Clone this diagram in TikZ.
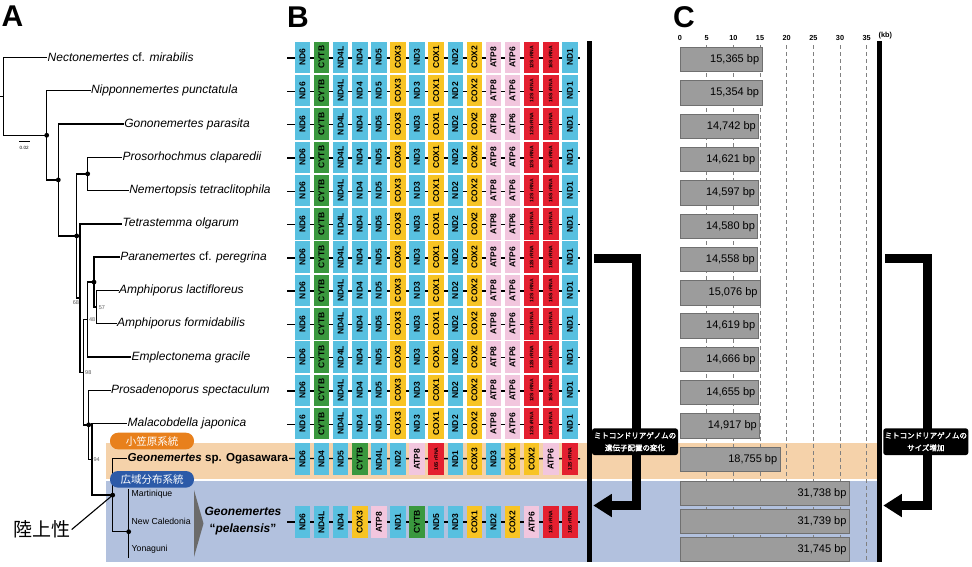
\documentclass[tikz,border=0pt]{standalone}
\usepackage{fontspec}
\setmainfont{Liberation Sans}
\newfontfamily\cjk[AutoFakeBold=2]{Noto Sans CJK JP}
\usetikzlibrary{arrows.meta}
\definecolor{ndc}{RGB}{88,192,224}
\definecolor{cyc}{RGB}{58,152,62}
\definecolor{cxc}{RGB}{248,196,36}
\definecolor{atc}{RGB}{242,198,222}
\definecolor{rrc}{RGB}{228,32,48}
\definecolor{bandor}{RGB}{245,210,170}
\definecolor{bandbl}{RGB}{178,193,222}
\definecolor{pillor}{RGB}{232,128,28}
\definecolor{pillbl}{RGB}{44,90,168}
\definecolor{barfill}{RGB}{156,156,156}
\definecolor{barline}{RGB}{112,112,112}
\begin{document}
\begin{tikzpicture}[x=1pt,y=-1pt,
  tree/.style={line width=1.4pt,line cap=rect},
  leaf/.style={anchor=west,inner sep=0.8pt,font=\fontsize{12}{12}\selectfont},
  sup/.style={inner sep=0pt,font=\fontsize{5.5}{5.5}\selectfont,text=black!65},
  gene/.style={rotate=90,minimum width=31.5pt,minimum height=15.5pt,inner sep=0pt,
    font=\bfseries\fontsize{8.5}{8.5}\selectfont},
  gnd/.style={fill=ndc},
  gcy/.style={fill=cyc},
  gcx/.style={fill=cxc},
  gat/.style={fill=atc},
  grr/.style={fill=rrc,font=\bfseries\fontsize{5}{5}\selectfont},
  rowline/.style={line width=1.4pt},
  bar/.style={fill=barfill,draw=barline,line width=0.6pt},
  bartext/.style={anchor=east,inner sep=0pt,font=\fontsize{11}{11}\selectfont},
  tick/.style={inner sep=0pt,font=\bfseries\fontsize{7.3}{7.3}\selectfont},
  dashline/.style={draw=black!50,line width=0.7pt,dash pattern=on 4pt off 3pt},
  pill/.style={rounded corners=8pt,minimum width=84pt,minimum height=16.6pt,inner sep=0pt,
    text=white,font=\cjk\fontsize{10.5}{10.5}\selectfont},
  notebox/.style={fill=black,rounded corners=2.5pt,minimum width=86pt,minimum height=26.7pt,
    inner sep=0pt,text=white,align=center,font=\cjk\bfseries\fontsize{7.5}{12.3}\selectfont},
  bigarrow/.style={line width=8.5pt,-{Triangle[length=18.5pt,width=22pt]}},
  panel/.style={inner sep=0pt,font=\bfseries\fontsize{30}{30}\selectfont}
]
\useasboundingbox (0,0) rectangle (972,566);
\fill[white] (0,0) rectangle (972,566);

% ---------- bands ----------
\fill[bandor] (106,442.5) rectangle (877,478.5);
\fill[bandbl] (106,481) rectangle (877,562);

% ---------- panel letters ----------
\node[panel] (pA) at (12.5,16) {A};
\node[panel] (pB) at (298,17) {B};
\node[panel] (pC) at (684,17) {C};

% ---------- tree ----------
\coordinate (rootstub) at (0,96.3);
\coordinate (root) at (3.3,96.3);
\coordinate (n1) at (46.7,135.25);
\coordinate (n2) at (58.3,179.9);
\coordinate (nP) at (87.7,173.85);
\coordinate (nA) at (76.7,235.9);
\coordinate (n68) at (80,298);
\coordinate (n98) at (83.3,372.2);
\coordinate (n48) at (87.3,319.5);
\coordinate (nPA) at (94,282.1);
\coordinate (n57) at (96.7,307.05);
\coordinate (nY) at (88.7,424.8);
\coordinate (n94) at (92,459.35);
\coordinate (nG) at (112.7,495.1);
\coordinate (nPel) at (128.7,531.7);
\coordinate (pelTop) at (128.7,490);
\coordinate (pelBot) at (128.7,557);

\node[leaf] (L1) at (46.7,57.3) {\textit{Nectonemertes} cf. \textit{mirabilis}};
\node[leaf] (L2) at (90,90.6) {\textit{Nipponnemertes punctatula}};
\node[leaf] (L3) at (123.3,123.9) {\textit{Gononemertes parasita}};
\node[leaf] (L4) at (121.7,157.2) {\textit{Prosorhochmus claparedii}};
\node[leaf] (L5) at (128.3,190.5) {\textit{Nemertopsis tetraclitophila}};
\node[leaf] (L6) at (121.7,223.8) {\textit{Tetrastemma olgarum}};
\node[leaf] (L7) at (119.3,257.1) {\textit{Paranemertes} cf. \textit{peregrina}};
\node[leaf] (L8) at (118,290.4) {\textit{Amphiporus lactifloreus}};
\node[leaf] (L9) at (116,323.7) {\textit{Amphiporus formidabilis}};
\node[leaf] (L10) at (130.5,357) {\textit{Emplectonema gracile}};
\node[leaf] (L11) at (110,390.3) {\textit{Prosadenoporus spectaculum}};
\node[leaf] (L12) at (126.7,423.6) {\textit{Malacobdella japonica}};
\node[leaf,font=\bfseries\fontsize{11.6}{11.6}\selectfont] (L13) at (126.7,458.5) {\textit{Geonemertes} sp. Ogasawara};

\draw[tree] (rootstub) -- (root);
\draw[tree] (root) |- (L1.west);
\draw[tree] (root) |- (n1);
\draw[tree] (n1) |- (L2.west);
\draw[tree] (n1) |- (n2);
\draw[tree] (n2) |- (L3.west);
\draw[tree] (n2) |- (nA);
\draw[tree] (nA) |- (nP);
\draw[tree] (nA) |- (n68);
\draw[tree] (nP) |- (L4.west);
\draw[tree] (nP) |- (L5.west);
\draw[tree] (n68) |- (L6.west);
\draw[tree] (n68) |- (n98);
\draw[tree] (n98) |- (n48);
\draw[tree] (n98) |- (nY);
\draw[tree] (n48) |- (nPA);
\draw[tree] (n48) |- (L10.west);
\draw[tree] (nPA) |- (L7.west);
\draw[tree] (nPA) |- (n57);
\draw[tree] (n57) |- (L8.west);
\draw[tree] (n57) |- (L9.west);
\draw[tree] (nY) |- (L11.west);
\draw[tree] (nY) |- (n94);
\draw[tree] (n94) |- (L12.west);
\draw[tree] (n94) |- (nG);
\draw[tree] (nG) |- (L13.west);
\draw[tree] (nG) |- (nPel);
\draw[tree] (pelTop) -- (pelBot);
\foreach \d in {n1,n2,nP,nA,nPA,nY,nG,nPel} \fill (\d) circle (2.4pt);

\node[sup,anchor=east] (s68) at (79.2,302.3) {68};
\node[sup,anchor=west] (s57) at (98.6,307.5) {57};
\node[sup,anchor=west] (s48) at (88.9,319.5) {48};
\node[sup,anchor=west] (s98) at (85,372.8) {98};
\node[sup,anchor=west] (s94) at (93.4,459.8) {94};

% scale bar
\coordinate (sb1) at (19,141.6);
\coordinate (sb2) at (29.5,141.6);
\draw[line width=0.9pt] (sb1) -- (sb2);
\node[inner sep=0pt,font=\fontsize{4.6}{4.6}\selectfont] (sbl) at (24.2,148) {0.02};

% pelaensis clade
\node[anchor=west,inner sep=0pt,font=\fontsize{8.7}{8.7}\selectfont] (mart) at (131.5,494) {Martinique};
\node[anchor=west,inner sep=0pt,font=\fontsize{8.7}{8.7}\selectfont] (newc) at (131.5,521) {New Caledonia};
\node[anchor=west,inner sep=0pt,font=\fontsize{8.7}{8.7}\selectfont] (yona) at (131.5,549) {Yonaguni};
\fill[black!58] (194,490) -- (203.5,523.5) -- (194,557) -- cycle;
\node[align=center,inner sep=0pt,font=\bfseries\fontsize{12}{17}\selectfont] (pel) at (243,521.5)
  {\textit{Geonemertes}\\``\textit{pelaensis}''};

% pills and terrestrial label
\node[pill,fill=pillor] (pillO) at (152,441) {小笠原系統};
\node[pill,fill=pillbl] (pillB) at (152,479.3) {広域分布系統};
\node[inner sep=1pt,font=\cjk\fontsize{19}{19}\selectfont] (rk) at (42,529.5) {陸上性};
\draw[line width=1.1pt] (rk.east) -- (nG);

% ---------- panel B ----------
\def\stdorder{gnd/ND6,gcy/CYTB,gnd/ND4L,gnd/ND4,gnd/ND5,gcx/COX3,gnd/ND3,gcx/COX1,gnd/ND2,gcx/COX2,gat/ATP8,gat/ATP6,grr/12S rRNA,grr/16S rRNA,gnd/ND1}
\def\ogaorder{gnd/ND6,gnd/ND4,gnd/ND5,gcy/CYTB,gnd/ND4L,gnd/ND2,gat/ATP8,grr/16S rRNA,gnd/ND1,gcx/COX3,gnd/ND3,gcx/COX1,gcx/COX2,gat/ATP6,grr/12S rRNA}
\def\pelorder{gnd/ND6,gnd/ND4L,gnd/ND4,gcx/COX3,gat/ATP8,gnd/ND1,gcy/CYTB,gnd/ND5,gnd/ND3,gcx/COX1,gnd/ND2,gcx/COX2,gat/ATP6,grr/12S rRNA,grr/16S rRNA}

\foreach \r in {0,...,11}{
  \pgfmathsetmacro\yy{58+33.3*\r}
  \coordinate (ls\r) at (287,\yy);
  \coordinate (le\r) at (580,\yy);
  \draw[rowline] (ls\r) -- (le\r);
  \foreach \c/\g [count=\i from 0] in \stdorder {
    \node[gene,\c] (g\r-\i) at ({302.45+19.1*\i},{\yy-0.6}) {\g};
  }
}
\coordinate (le12) at (580,458.7);
\draw[rowline] (L13.east) -- (le12);
\foreach \c/\g [count=\i from 0] in \ogaorder {
  \node[gene,\c] (g12-\i) at ({302.45+19.1*\i},459.2) {\g};
}
\coordinate (ls13) at (287,522);
\coordinate (le13) at (580,522);
\draw[rowline] (ls13) -- (le13);
\foreach \c/\g [count=\i from 0] in \pelorder {
  \node[gene,\c] (g13-\i) at ({302.45+19.1*\i},522.2) {\g};
}

% ---------- panel C ----------
\foreach \k in {0,...,7}{
  \pgfmathtruncatemacro\lab{5*\k}
  \node[tick] (t\k) at ({680+26.667*\k},38.3) {\lab};
}
\node[tick,anchor=west] (kb) at (878.5,35.5) {(kb)};
\foreach \k in {1,...,7}{
  \draw[dashline] ({680+26.667*\k},45) -- ({680+26.667*\k},562);
}
\foreach \b/\t [count=\i from 0] in {15.365/15{,}365,15.354/15{,}354,14.742/14{,}742,14.621/14{,}621,14.597/14{,}597,14.580/14{,}580,14.558/14{,}558,15.076/15{,}076,14.619/14{,}619,14.666/14{,}666,14.655/14{,}655,14.917/14{,}917}{
  \pgfmathsetmacro\w{\b*5.3333}
  \pgfmathsetmacro\yt{47.3+33.3*\i}
  \path[bar] (680,\yt) rectangle ++(\w,24.4);
  \node[bartext] (bt\i) at ({680+\w-2.6},{\yt+12.4}) {\t\ bp};
}
\foreach \b/\t/\yt [count=\i from 12] in {18.755/18{,}755/447.3,31.738/31{,}738/481.3,31.739/31{,}739/509.6,31.745/31{,}745/537.4}{
  \pgfmathsetmacro\w{\b*5.3333}
  \path[bar] (680,\yt) rectangle ++(\w,23.8);
  \node[bartext] (bt\i) at ({680+\w-2.6},{\yt+12.1}) {\t\ bp};
}

% ---------- black bars and arrows ----------
\fill (586.7,40.7) rectangle (591.7,562);
\fill (877,40.7) rectangle (882,562);

\coordinate (aLs) at (594,258.5);
\coordinate (aLc1) at (636.7,258.5);
\coordinate (aLc2) at (636.7,505.5);
\coordinate (aLe) at (593.3,505.5);
\draw[bigarrow] (aLs) -- (aLc1) -- (aLc2) -- (aLe);
\coordinate (aRs) at (885,258.5);
\coordinate (aRc1) at (927.5,258.5);
\coordinate (aRc2) at (927.5,505.5);
\coordinate (aRe) at (883.3,505.5);
\draw[bigarrow] (aRs) -- (aRc1) -- (aRc2) -- (aRe);

\node[notebox] (noteL) at (635,441.7) {ミトコンドリアゲノムの\\遺伝子配置の変化};
\node[notebox,minimum width=85pt] (noteR) at (925.8,441.7) {ミトコンドリアゲノムの\\サイズ増加};
\end{tikzpicture}
\end{document}
